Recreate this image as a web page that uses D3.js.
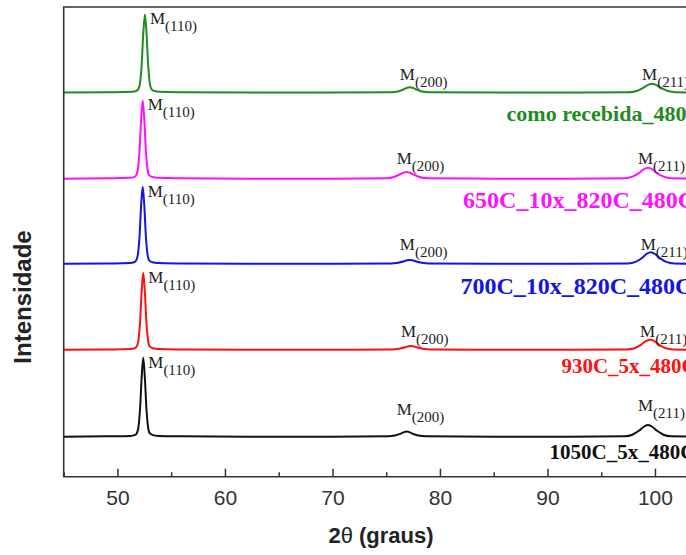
<!DOCTYPE html>
<html>
<head>
<meta charset="utf-8">
<script src="https://cdn.jsdelivr.net/npm/d3@7"></script>
<style>
  body { margin: 0; background: #fff; }
  svg { display: block; }
</style>
</head>
<body>
<div id="chart"></div>
<script>
// series names, bottom to top
const sampleNames = ['1050C_5x_480C', '930C_5x_480C', '700C_10x_820C_480C', '650C_10x_820C_480C', 'como recebida_480C']
const sampleColors = ['#111111', '#ff1010', '#1414e6', '#ff10ff', '#1e8c1e']
// vertical stacking offset of each pattern (intensity units)
const offsets = [0, 111, 221, 330, 440]
const reflections = ['(110)', '(200)', '(211)']

// [2theta, intensity]
const black = [
  [45, 0], [49, 0.5], [51.2, 1], [51.6, 2], [51.8, 4.5], [51.95, 12], [52.1, 35], [52.25, 75], [52.4, 101],
  [52.55, 75], [52.7, 35], [52.85, 12], [53.0, 4.5], [53.3, 2], [53.8, 1], [56, 0.5], [62, 0], [70, 0],
  [75.2, 0.5], [75.8, 1.5], [76.3, 3.5], [76.65, 5.8], [76.9, 6.5], [77.15, 5.8], [77.5, 3.5], [78, 1.5],
  [78.7, 0.5], [85, 0], [92, 0], [97.2, 0.5], [97.9, 2.5], [98.5, 7.5], [99.0, 13], [99.35, 15], [99.7, 13],
  [100.2, 7.5], [100.8, 2.5], [101.5, 0.5], [105, 0]
]
const red = [
  [45, 0], [49, 0.5], [51.2, 1], [51.6, 2], [51.8, 4.5], [51.95, 12], [52.1, 34], [52.25, 74], [52.4, 98.5],
  [52.55, 74], [52.7, 34], [52.85, 12], [53.0, 4.5], [53.3, 2], [53.8, 1], [56, 0.5], [62, 0], [70, 0],
  [75.6, 0.5], [76.2, 1.5], [76.7, 3], [77.05, 4.5], [77.3, 5], [77.55, 4.5], [77.9, 3], [78.4, 1.5],
  [79.1, 0.5], [85, 0], [92, 0], [97.4, 0.5], [98.1, 2], [98.7, 6.5], [99.2, 11.5], [99.55, 13], [99.9, 11.5],
  [100.4, 6.5], [101, 2], [101.7, 0.5], [105, 0]
]
const blue = [
  [45, 0], [49, 0.5], [51.15, 1], [51.55, 2], [51.75, 4.5], [51.9, 12], [52.05, 34], [52.2, 74], [52.35, 98.5],
  [52.5, 74], [52.65, 34], [52.8, 12], [52.95, 4.5], [53.25, 2], [53.75, 1], [56, 0.5], [62, 0], [70, 0],
  [75.5, 0.5], [76.1, 1.5], [76.6, 3], [76.95, 4.5], [77.2, 5], [77.45, 4.5], [77.8, 3], [78.3, 1.5],
  [79, 0.5], [85, 0], [92, 0], [97.5, 0.5], [98.2, 2.5], [98.8, 7.5], [99.25, 13], [99.6, 15], [99.95, 13],
  [100.45, 7.5], [101.05, 2.5], [101.8, 0.5], [105, 0]
]
const magenta = [
  [45, 0], [49, 0.5], [51.15, 1], [51.55, 2], [51.75, 4.5], [51.9, 12], [52.05, 35], [52.2, 75], [52.35, 100],
  [52.5, 75], [52.65, 35], [52.8, 12], [52.95, 4.5], [53.25, 2], [53.75, 1], [56, 0.5], [62, 0], [70, 0],
  [75.1, 0.5], [75.7, 2], [76.2, 5], [76.6, 7.5], [76.9, 8.5], [77.2, 7.5], [77.6, 5], [78.1, 2],
  [78.8, 0.5], [85, 0], [92, 0], [97.2, 0.5], [97.9, 2.5], [98.5, 7], [98.95, 12], [99.35, 14], [99.75, 12],
  [100.2, 7], [100.8, 2.5], [101.5, 0.5], [105, 0]
]
const green = [
  [45, 0], [49, 0.5], [51.35, 1], [51.75, 2], [51.95, 4.5], [52.1, 12], [52.25, 35], [52.4, 75], [52.56, 100],
  [52.71, 75], [52.86, 35], [53.01, 12], [53.16, 4.5], [53.45, 2], [53.95, 1], [56, 0.5], [62, 0], [70, 0],
  [75.5, 0.5], [76.1, 1.5], [76.6, 4], [76.95, 6.3], [77.2, 7], [77.45, 6.3], [77.8, 4], [78.3, 1.5],
  [79, 0.5], [85, 0], [92, 0], [97.6, 0.5], [98.3, 2], [98.9, 6], [99.35, 10], [99.73, 11.5], [100.1, 10],
  [100.6, 6], [101.2, 2], [101.9, 0.5], [105, 0]
]
const patterns = [black, red, blue, magenta, green]

const xTicks = [50, 60, 70, 80, 90, 100]
const xMinorTicks = [45, 55, 65, 75, 85, 95, 105]

// layout
const width = 686
const height = 555
const plot = { left: 63.7, top: 7, bottom: 476.7 }
const labelStart = [90.2, 91.3, 81.9, 82.15, 86.2] // 2theta where sample name starts
const labelDrop = [22, 23, 30, 29, 28]           // px below baseline
const labelSize = [21, 21, 24, 24, 22]
const hklLift = [22, 13, 14, 15, 13]              // px above baseline for (200),(211)

const x = d3.scaleLinear().domain([45, 105]).range([plot.left, plot.left + 60 * 10.75])
const y = d3.scaleLinear().domain([-51.2, 549.5]).range([plot.bottom, plot.top])

const svg = d3.select('#chart')
  .append('svg')
  .attr('width', width)
  .attr('height', height)

svg.append('defs')
  .append('clipPath')
  .attr('id', 'clip')
  .append('rect')
  .attr('x', plot.left)
  .attr('y', plot.top)
  .attr('width', x(105) - plot.left)
  .attr('height', plot.bottom - plot.top)

const line = d3.line()
  .curve(d3.curveMonotoneX)
  .x((d) => x(d[0]))
  .y((d) => y(d[1]))

const g = svg.append('g').attr('clip-path', 'url(#clip)')

patterns.forEach((pts, i) => {
  const off = offsets[i]
  g.append('path')
    .datum(pts.map((p) => [p[0], p[1] + off]))
    .attr('d', line)
    .attr('fill', 'none')
    .attr('stroke', sampleColors[i])
    .attr('stroke-width', 2)
    .attr('stroke-linejoin', 'round')

  // sample name
  svg.append('text')
    .attr('x', x(labelStart[i]))
    .attr('y', y(off) + labelDrop[i])
    .attr('font-family', '"Liberation Serif", "Times New Roman", serif')
    .attr('font-weight', 'bold')
    .attr('font-size', labelSize[i])
    .attr('fill', sampleColors[i])
    .text(sampleNames[i])

  // reflection labels at the peak maxima
  const windows = [[50, 55], [74, 80], [96, 103]]
  windows.forEach((w, k) => {
    const inWin = pts.filter((p) => p[0] >= w[0] && p[0] <= w[1])
    const top = inWin.reduce((a, b) => (b[1] > a[1] ? b : a))
    let tx, ty
    if (k === 0) {
      tx = x(top[0]) + 5
      ty = y(top[1] + off) + 10
    } else {
      tx = x(top[0]) - 10
      ty = y(off) - hklLift[i] - (k === 2 && i === 0 ? 4 : 0)
    }
    const t = svg.append('text')
      .attr('x', tx)
      .attr('y', ty)
      .attr('font-family', '"Liberation Serif", "Times New Roman", serif')
      .attr('font-size', 17)
      .attr('fill', '#222')
    t.append('tspan').text('M')
    t.append('tspan').attr('dy', 7).attr('font-size', 15).text(reflections[k])
  })
})

// frame
const frame = svg.append('g')
  .attr('fill', 'none')
  .attr('stroke', '#333')
  .attr('stroke-width', 1.6)
frame.append('path')
  .attr('d', `M${x(105)},${plot.top}H${plot.left}V${plot.bottom}H${x(105)}V${plot.top}`)

// x axis with inward ticks
const axis = svg.append('g')
  .attr('transform', `translate(0,${plot.bottom})`)
  .call(d3.axisBottom(x).tickValues(xTicks).tickSize(-8).tickPadding(13).tickFormat(d3.format('d')))
axis.select('.domain').remove()
axis.selectAll('line').attr('stroke', '#333').attr('stroke-width', 1.5)
axis.selectAll('text')
  .attr('font-family', '"Liberation Sans", Arial, sans-serif')
  .attr('font-size', 21)
  .attr('fill', '#333')

const minor = svg.append('g')
  .attr('transform', `translate(0,${plot.bottom})`)
  .call(d3.axisBottom(x).tickValues(xMinorTicks).tickSize(-4.5).tickFormat(''))
minor.select('.domain').remove()
minor.selectAll('line').attr('stroke', '#333').attr('stroke-width', 1.5)

// axis titles
const title = svg.append('text')
  .attr('x', 381)
  .attr('y', 543)
  .attr('text-anchor', 'middle')
  .attr('font-family', '"Liberation Sans", Arial, sans-serif')
  .attr('font-weight', 'bold')
  .attr('font-size', 22)
  .attr('fill', '#222')
title.append('tspan').text('2')
title.append('tspan').attr('font-weight', 'normal').text('θ')
title.append('tspan').text(' (graus)')

svg.append('text')
  .attr('transform', 'translate(31,297) rotate(-90)')
  .attr('text-anchor', 'middle')
  .attr('font-family', '"Liberation Sans", Arial, sans-serif')
  .attr('font-weight', 'bold')
  .attr('font-size', 24)
  .attr('fill', '#222')
  .text('Intensidade')
</script>
</body>
</html>
